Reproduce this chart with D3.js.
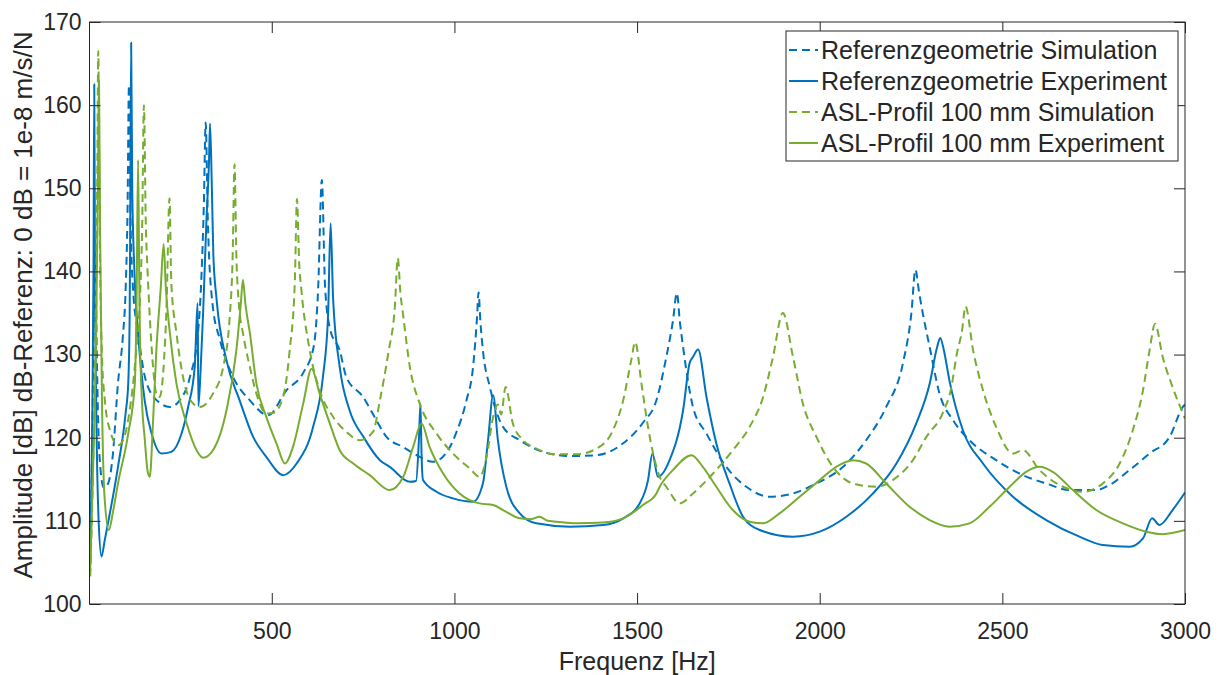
<!DOCTYPE html>
<html>
<head>
<meta charset="utf-8">
<script src="https://cdn.jsdelivr.net/npm/d3@7"></script>
<style>
  body { margin: 0; background: #fff; }
  svg text { font-family: "Liberation Sans", Arial, Helvetica, sans-serif; fill: #262626; }
  .axis line { stroke: #262626; }
  .axis path { display: none; }
  .line { fill: none; stroke-width: 2; stroke-linejoin: round; }
</style>
</head>
<body>
<div id="chart"></div>
<script>
// values: [frequency in Hz, amplitude in dB]
var refSim = [[3,105],[8,118],[13,135],[17,142],[21,130],[28,118],[40,114],[52,114.5],[65,118],[79,126.6],[92,132],[100,138],[105,147],[109,162.4],[113,147],[120,138],[134,132.6],[157,126.6],[193,124.2],[221,123.7],[248,124.5],[276,127.3],[298,132.6],[308,140],[314,148],[319,157.9],[325,146],[338,136],[358,131.8],[394,127.3],[440,124.5],[490,122.7],[540,125.7],[586,127.8],[615,131],[627,138],[637,151],[646,138],[660,133],[686,130.5],[704,127.3],[750,124.9],[780,122.6],[814,120.1],[859,118.9],[905,117.7],[941,117.1],[978,118.2],[1005,120.6],[1033,124.5],[1051,128.5],[1062,134.6],[1066,137.5],[1071,134],[1078,130.5],[1097,126.1],[1133,121.3],[1179,119.7],[1242,118.3],[1316,117.8],[1389,117.9],[1461,119.3],[1516,121.8],[1553,124.5],[1580,129.7],[1598,134],[1609,137.4],[1617,134],[1626,130.9],[1653,123.7],[1690,120.5],[1744,116.5],[1799,114.1],[1863,112.9],[1927,113.3],[1991,114.5],[2064,116.5],[2127,119.7],[2182,123.7],[2228,129],[2251,135],[2262,140.2],[2272,137.5],[2282,135],[2301,130.9],[2328,125.3],[2365,122.1],[2410,119.7],[2483,117.3],[2556,115.5],[2620,114.5],[2684,113.7],[2757,113.7],[2793,114.3],[2848,116.1],[2903,118.1],[2958,120.1],[2994,123.7],[3000,124]];

var refExp = [[3,105.5],[8,120],[12,140],[14,162.5],[16,140],[20,122],[26,110],[34,105.7],[42,107.5],[55,110.5],[79,116.5],[100,123],[107,126.5],[111,135],[113,150],[115,167.5],[118,150],[124,140],[134,132.6],[152,124.5],[171,120.5],[198,118.1],[225,118.3],[253,120.5],[271,123.7],[289,128.5],[297,136.2],[299,123.8],[305,128],[312,135],[321,146],[328,153],[331,157.8],[336,150],[340,142],[349,136.6],[376,129.3],[412,124.5],[449,120.1],[485,117.7],[531,115.5],[568,116.9],[613,121.3],[640,127.3],[654,134.6],[661,145.8],[668,136.6],[686,128.5],[713,123.3],[751,120.1],[796,117.3],[823,116.5],[878,114.7],[895,114.8],[903,120],[907,124.1],[910,118],[914,114.9],[951,113.5],[996,112.7],[1051,112.3],[1078,114.5],[1092,119.7],[1106,125.1],[1119,119.7],[1142,114.1],[1179,110.9],[1224,109.7],[1316,109.3],[1407,109.5],[1462,110.3],[1507,112.1],[1530,114.9],[1542,118.1],[1557,115.3],[1589,117.3],[1626,123.3],[1644,129],[1653,129.7],[1667,130.6],[1690,124.9],[1717,119.3],[1753,114.5],[1790,110.5],[1836,108.9],[1927,108.1],[2000,108.7],[2073,110.5],[2146,113.3],[2210,116.9],[2264,121.7],[2301,126.5],[2322,131],[2330,132],[2340,130.5],[2355,126.9],[2392,120.9],[2447,116.9],[2529,112.9],[2620,110.1],[2711,108.1],[2775,107.1],[2848,106.9],[2885,107.9],[2910,110.3],[2930,109.5],[2966,111.3],[3000,113.4]];

var aslSim = [[3,103.3],[10,115],[18,135],[22,150],[25,166.5],[28,150],[31,138],[35,130],[43,124.5],[57,120.9],[79,119.1],[93,119.7],[110,123],[128,130],[139,136.6],[145,145],[150,160],[155,146],[160,140],[166,134.6],[175,128.5],[186,125],[193,124.9],[203,128],[212,136],[220,148.8],[225,138.6],[239,132.6],[257,127.3],[285,124.1],[303,123.7],[339,125.3],[367,128.5],[385,134.6],[393,142],[398,152.9],[403,142],[410,136],[421,132.6],[440,128.5],[458,125.3],[485,122.9],[505,123],[531,124.9],[549,130.5],[563,138.6],[569,148.7],[575,141],[581,137.8],[604,130.5],[631,125.7],[668,122.5],[704,120.7],[741,119.7],[777,120.7],[796,124.5],[819,130.2],[837,135.8],[845,141.6],[852,137.5],[860,134.6],[878,128.5],[905,124.1],[951,120.5],[996,118.1],[1042,116.3],[1069,115.3],[1088,117.7],[1106,122.5],[1119,124],[1128,122.8],[1140,126.1],[1160,121.7],[1188,119.7],[1224,118.7],[1279,118],[1334,118],[1389,118.7],[1434,120.9],[1462,124.5],[1484,129.3],[1495,131.5],[1512,126.5],[1530,121.3],[1544,118.1],[1562,115.3],[1580,114.1],[1617,112.1],[1653,113.3],[1708,115.7],[1762,118.5],[1808,121.3],[1845,124.9],[1872,129.7],[1899,135],[1927,129.7],[1954,124.1],[1991,120.1],[2036,116.5],[2091,114.5],[2155,114.1],[2200,114.9],[2255,117.3],[2292,120.1],[2337,123],[2360,126],[2375,130],[2390,133],[2399,135.8],[2420,130.5],[2447,125.7],[2483,121.3],[2529,118.1],[2556,118.5],[2602,116.1],[2666,114.1],[2720,113.5],[2775,114.5],[2821,116.9],[2857,120.9],[2885,125.7],[2903,130.5],[2918,133.7],[2939,129.7],[2966,126.1],[3000,122.3]];

var aslExp = [[3,104],[12,118],[20,135],[24,150],[27,163],[30,145],[35,125],[42,113],[54,108.9],[65,111],[79,114.5],[107,120.5],[125,126.5],[130,137],[134,153.4],[137,140],[139,132.6],[145,124],[152,120],[160,116],[166,115.3],[175,122],[184,130.5],[196,138],[204,143.3],[210,138],[221,132.6],[239,126.5],[267,121.7],[294,118.5],[312,117.6],[339,118.5],[376,123.3],[403,130.5],[415,136],[421,139],[428,136],[440,132.6],[458,126.5],[485,122.5],[513,119.3],[536,116.9],[558,118.9],[586,124.1],[609,128.3],[631,125.3],[659,121.7],[686,118.5],[723,116.9],[768,115.5],[823,113.7],[860,115.3],[887,118.9],[910,121.7],[932,118.9],[969,115.7],[1014,113.3],[1069,112.1],[1106,111.9],[1133,111.3],[1179,110.3],[1210,110.2],[1233,110.5],[1255,110],[1279,109.9],[1334,109.7],[1407,109.8],[1462,110.3],[1516,111.9],[1553,113.3],[1562,114.1],[1598,116.1],[1649,117.9],[1680,116.5],[1717,114.1],[1762,111.3],[1808,109.9],[1845,109.7],[1890,110.9],[1945,112.9],[2000,114.9],[2045,116.5],[2091,117.3],[2127,116.9],[2182,114.5],[2246,111.7],[2301,110.1],[2355,109.3],[2410,109.7],[2465,111.7],[2520,114.1],[2565,115.9],[2602,116.5],[2638,115.9],[2693,113.7],[2757,111.3],[2830,109.7],[2894,108.7],[2939,108.4],[3000,108.9]];

var seriesNames = ["Referenzgeometrie Simulation", "Referenzgeometrie Experiment", "ASL-Profil 100 mm Simulation", "ASL-Profil 100 mm Experiment"];
var xTicks = [500, 1000, 1500, 2000, 2500, 3000];
var yTicks = [100, 110, 120, 130, 140, 150, 160, 170];

var series = [
  {name: seriesNames[0], values: refSim, color: "#0072BD", dashed: true},
  {name: seriesNames[1], values: refExp, color: "#0072BD", dashed: false},
  {name: seriesNames[2], values: aslSim, color: "#77AC30", dashed: true},
  {name: seriesNames[3], values: aslExp, color: "#77AC30", dashed: false}
];

var fullWidth = 1223, fullHeight = 675;
var margin = {top: 22, right: 38, bottom: 71, left: 89.5},
  width = fullWidth - margin.left - margin.right,
  height = fullHeight - margin.top - margin.bottom;

var svg = d3.select("#chart").append("svg")
  .attr("width", fullWidth)
  .attr("height", fullHeight)
  .append("g")
  .attr("transform", "translate(" + margin.left + "," + margin.top + ")");

var xScale = d3.scaleLinear().domain([1, 3000]).range([0, width]);
var yScale = d3.scaleLinear().domain([100, 170]).range([height, 0]);

svg.append("defs").append("clipPath").attr("id", "plotClip")
  .append("rect").attr("width", width).attr("height", height);

// the curves, smoothed a bit so the read-off points don't show as corners
var line = d3.line()
  .x(function(d) { return xScale(d[0]); })
  .y(function(d) { return yScale(d[1]); })
  .curve(d3.curveMonotoneX);

var curves = svg.append("g").attr("clip-path", "url(#plotClip)");
series.forEach(function(s) {
  curves.append("path")
    .datum(s.values)
    .attr("class", "line")
    .attr("d", line)
    .attr("stroke", s.color)
    .attr("stroke-dasharray", s.dashed ? "8,5" : null);
});

// axes, ticks pointing inwards on all four sides
svg.append("g")
  .attr("class", "x axis")
  .attr("transform", "translate(0," + height + ")")
  .call(d3.axisBottom(xScale).tickValues(xTicks).tickFormat(d3.format("d"))
    .tickSizeInner(-11).tickSizeOuter(0).tickPadding(19))
  .selectAll("text").style("font-size", "23px");

svg.append("g")
  .attr("class", "axis")
  .call(d3.axisTop(xScale).tickValues(xTicks).tickSizeInner(-11).tickSizeOuter(0).tickFormat(""));

svg.append("g")
  .attr("class", "y axis")
  .call(d3.axisLeft(yScale).tickValues(yTicks).tickFormat(d3.format("d"))
    .tickSizeInner(-11).tickSizeOuter(0).tickPadding(8))
  .selectAll("text").style("font-size", "23px");

svg.append("g")
  .attr("class", "axis")
  .attr("transform", "translate(" + width + ",0)")
  .call(d3.axisRight(yScale).tickValues(yTicks).tickSizeInner(-11).tickSizeOuter(0).tickFormat(""));

// box round the plot
svg.append("rect")
  .attr("width", width)
  .attr("height", height)
  .attr("fill", "none")
  .attr("stroke", "#262626")
  .attr("stroke-width", 1);

// axis labels
svg.append("text")
  .attr("x", width / 2)
  .attr("y", height + 66)
  .style("text-anchor", "middle")
  .style("font-size", "25px")
  .text("Frequenz [Hz]");

svg.append("text")
  .attr("transform", "rotate(-90)")
  .attr("x", -height / 2 + 8)
  .attr("y", -58)
  .style("text-anchor", "middle")
  .style("font-size", "26px")
  .text("Amplitude [dB] dB-Referenz: 0 dB = 1e-8 m/s/N");

// legend
var legendX = 786 - margin.left, legendY = 31 - margin.top, rowHeight = 31;
svg.append("rect")
  .attr("x", legendX)
  .attr("y", legendY)
  .attr("width", 392)
  .attr("height", 130)
  .attr("fill", "#fff")
  .attr("stroke", "#262626")
  .attr("stroke-width", 1);

var legend = svg.selectAll(".legend")
  .data(series)
  .enter()
  .append("g")
  .attr("class", "legend")
  .attr("transform", function(d, i) {
    return "translate(" + legendX + "," + (legendY + 19 + i * rowHeight) + ")";
  });

legend.append("line")
  .attr("x1", 3)
  .attr("x2", 32)
  .attr("stroke", function(d) { return d.color; })
  .attr("stroke-width", 2)
  .attr("stroke-dasharray", function(d) { return d.dashed ? "8,5" : null; });

legend.append("text")
  .attr("x", 35)
  .attr("dy", "0.35em")
  .style("font-size", "25px")
  .text(function(d) { return d.name; });
</script>
</body>
</html>
